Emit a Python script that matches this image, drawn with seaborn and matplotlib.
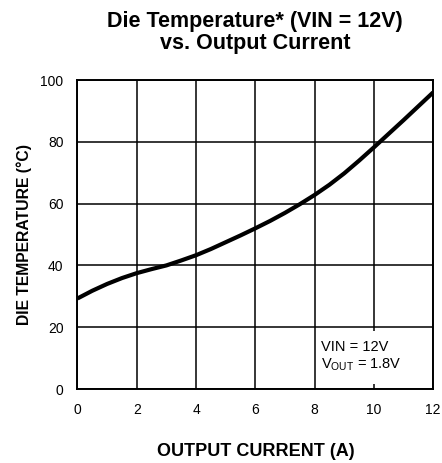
import matplotlib
matplotlib.use("Agg")
import matplotlib.pyplot as plt
from matplotlib.patches import Rectangle
import seaborn as sns

# Output current (A) and die temperature (°C)
current_a = [0, 0.5, 1, 1.5, 2, 2.5, 3, 3.5, 4, 4.5, 5, 5.5, 6, 6.5,
             7, 7.5, 8, 8.5, 9, 9.5, 10, 10.5, 11, 11.5, 12]
die_temp_c = [29.3, 31.8, 34.0, 35.9, 37.5, 38.8, 40.0, 41.6, 43.3, 45.3,
              47.5, 49.7, 52.0, 54.4, 57.0, 59.8, 62.8, 66.1, 69.8, 73.9,
              78.2, 82.6, 87.0, 91.5, 96.0]

x_ticks = [0, 2, 4, 6, 8, 10, 12]
y_ticks = [0, 20, 40, 60, 80, 100]

sns.set_style("white")
plt.rcParams["font.family"] = ["Liberation Sans", "DejaVu Sans"]
plt.rcParams["text.color"] = "black"
plt.rcParams["axes.labelcolor"] = "black"

fig = plt.figure(figsize=(4.42, 4.63), dpi=100)
ax = fig.add_axes([0.1753, 0.1598, 0.8047, 0.6674])

sns.lineplot(x=current_a, y=die_temp_c, color="black", linewidth=3.0, ax=ax,
             solid_capstyle="butt", solid_joinstyle="round", zorder=3)

ax.set_xlim(0, 12)
ax.set_ylim(0, 100)
ax.set_xticks(x_ticks)
ax.set_yticks(y_ticks)
ax.tick_params(axis="both", length=0, labelsize=10, colors="black")
ax.tick_params(axis="x", pad=10)
ax.tick_params(axis="y", pad=10)

ax.grid(True, color="black", linewidth=1.1)
ax.set_axisbelow(True)
for s in ax.spines.values():
    s.set_visible(True)
    s.set_color("black")
    s.set_linewidth(1.4)

ax.set_xlabel("OUTPUT CURRENT (A)", fontsize=13, fontweight="bold", labelpad=19)
ax.set_ylabel("DIE TEMPERATURE (°C)", fontsize=11.3, fontweight="bold", labelpad=6)
ax.set_title("Die Temperature* (VIN = 12V)\nvs. Output Current",
             fontsize=15.5, fontweight="bold", pad=22, linespacing=1.12)

# white panel behind the operating-condition note
ax.add_patch(Rectangle((8.12, 1.6), 3.2, 17.2, facecolor="white",
                       edgecolor="none", zorder=2))
ax.text(8.2, 15.7, "VIN = 12V\nV$_{\\mathregular{OUT}}$ = 1.8V", fontsize=10.5,
        ha="left", va="top", linespacing=1.15, zorder=4)

fig.savefig("out.png", dpi=100)
